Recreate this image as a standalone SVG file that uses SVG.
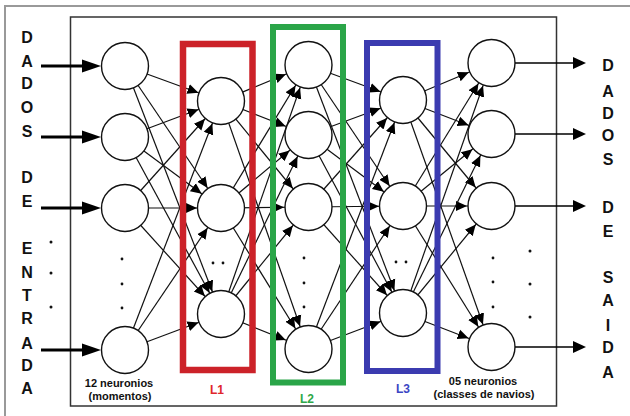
<svg xmlns="http://www.w3.org/2000/svg" width="630" height="416" viewBox="0 0 630 416">
<defs>
<style>
.n{fill:#fff;stroke:#111;stroke-width:1.4}
.c{stroke:#111;stroke-width:1.2;fill:none;marker-end:url(#ah)}
.in{stroke:#000;stroke-width:3.2;marker-end:url(#big)}
.out{stroke:#000;stroke-width:1.6;marker-end:url(#mid)}
.lt{font-family:"Liberation Sans",Arial,sans-serif;font-weight:bold;font-size:16px;fill:#111;text-anchor:middle}
.bt{font-family:"Liberation Sans",Arial,sans-serif;font-weight:bold;font-size:11px;fill:#111;text-anchor:middle}
.lb{font-family:"Liberation Sans",Arial,sans-serif;font-weight:bold;font-size:12px;text-anchor:middle}
.d{fill:#111}
</style>
<marker id="ah" markerUnits="userSpaceOnUse" markerWidth="40" markerHeight="20" refX="35" refY="10" orient="auto">
<path d="M0,5 L11,10 L0,15 z" fill="#000"/>
</marker>
<marker id="big" markerUnits="userSpaceOnUse" markerWidth="20" markerHeight="14" refX="10" refY="7" orient="auto">
<path d="M0,0.5 L19,7 L0,13.5 z" fill="#000"/>
</marker>
<marker id="mid" markerUnits="userSpaceOnUse" markerWidth="14" markerHeight="14" refX="4" refY="7" orient="auto">
<path d="M0,1 L13,7 L0,13 z" fill="#000"/>
</marker>
</defs>
<rect width="630" height="416" fill="#fff"/>
<path d="M5,416 V6 H630" fill="none" stroke="#999" stroke-width="2"/>
<rect x="70.5" y="17" width="486" height="389" fill="none" stroke="#333" stroke-width="1.5"/>

<g id="connectors">
<line class="c" x1="125" y1="66" x2="221" y2="101"/>
<line class="c" x1="125" y1="66" x2="221" y2="208"/>
<line class="c" x1="125" y1="66" x2="221" y2="314"/>
<line class="c" x1="125" y1="137" x2="221" y2="101"/>
<line class="c" x1="125" y1="137" x2="221" y2="208"/>
<line class="c" x1="125" y1="137" x2="221" y2="314"/>
<line class="c" x1="125" y1="208" x2="221" y2="101"/>
<line class="c" x1="125" y1="208" x2="221" y2="208"/>
<line class="c" x1="125" y1="208" x2="221" y2="314"/>
<line class="c" x1="125" y1="350" x2="221" y2="101"/>
<line class="c" x1="125" y1="350" x2="221" y2="208"/>
<line class="c" x1="125" y1="350" x2="221" y2="314"/>
<line class="c" x1="221" y1="101" x2="308" y2="65"/>
<line class="c" x1="221" y1="101" x2="308" y2="135"/>
<line class="c" x1="221" y1="101" x2="308" y2="207"/>
<line class="c" x1="221" y1="101" x2="308" y2="349"/>
<line class="c" x1="221" y1="208" x2="308" y2="65"/>
<line class="c" x1="221" y1="208" x2="308" y2="135"/>
<line class="c" x1="221" y1="208" x2="308" y2="207"/>
<line class="c" x1="221" y1="208" x2="308" y2="349"/>
<line class="c" x1="221" y1="314" x2="308" y2="65"/>
<line class="c" x1="221" y1="314" x2="308" y2="135"/>
<line class="c" x1="221" y1="314" x2="308" y2="207"/>
<line class="c" x1="221" y1="314" x2="308" y2="349"/>
<line class="c" x1="308" y1="65" x2="403" y2="100"/>
<line class="c" x1="308" y1="65" x2="403" y2="206"/>
<line class="c" x1="308" y1="65" x2="403" y2="313"/>
<line class="c" x1="308" y1="135" x2="403" y2="100"/>
<line class="c" x1="308" y1="135" x2="403" y2="206"/>
<line class="c" x1="308" y1="135" x2="403" y2="313"/>
<line class="c" x1="308" y1="207" x2="403" y2="100"/>
<line class="c" x1="308" y1="207" x2="403" y2="206"/>
<line class="c" x1="308" y1="207" x2="403" y2="313"/>
<line class="c" x1="308" y1="349" x2="403" y2="100"/>
<line class="c" x1="308" y1="349" x2="403" y2="206"/>
<line class="c" x1="308" y1="349" x2="403" y2="313"/>
<line class="c" x1="403" y1="100" x2="491" y2="63"/>
<line class="c" x1="403" y1="100" x2="491" y2="134"/>
<line class="c" x1="403" y1="100" x2="491" y2="206"/>
<line class="c" x1="403" y1="100" x2="491" y2="347"/>
<line class="c" x1="403" y1="206" x2="491" y2="63"/>
<line class="c" x1="403" y1="206" x2="491" y2="134"/>
<line class="c" x1="403" y1="206" x2="491" y2="206"/>
<line class="c" x1="403" y1="206" x2="491" y2="347"/>
<line class="c" x1="403" y1="313" x2="491" y2="63"/>
<line class="c" x1="403" y1="313" x2="491" y2="134"/>
<line class="c" x1="403" y1="313" x2="491" y2="206"/>
<line class="c" x1="403" y1="313" x2="491" y2="347"/>
<line class="in" x1="41" y1="66" x2="92" y2="66"/>
<line class="in" x1="41" y1="137" x2="92" y2="137"/>
<line class="in" x1="41" y1="208" x2="92" y2="208"/>
<line class="in" x1="41" y1="350" x2="92" y2="350"/>
<line class="out" x1="515" y1="63" x2="577" y2="63"/>
<line class="out" x1="515" y1="134" x2="577" y2="134"/>
<line class="out" x1="515" y1="206" x2="577" y2="206"/>
<line class="out" x1="515" y1="347" x2="577" y2="347"/>
</g>

<g id="L1">
<rect x="183" y="44" width="69.5" height="326" fill="none" stroke="#cc2229" stroke-width="6.5"/>
<text class="lb" x="217" y="394" fill="#e0262b">L1</text>
</g>
<g id="L2">
<rect x="273" y="27" width="70" height="355.5" fill="none" stroke="#2aa548" stroke-width="6"/>
<text class="lb" x="307" y="403" fill="#2ea84a">L2</text>
</g>
<g id="L3">
<rect x="367" y="43" width="70.5" height="328" fill="none" stroke="#3b3bb0" stroke-width="6"/>
<text class="lb" x="403" y="393" fill="#3b45c4">L3</text>
</g>

<g id="input-layer">
<circle class="n" cx="125" cy="66" r="23.5"/>
<circle class="n" cx="125" cy="137" r="23.5"/>
<circle class="n" cx="125" cy="208" r="23.5"/>
<circle class="n" cx="125" cy="350" r="23.5"/>
<circle class="d" cx="122" cy="259" r="1.4"/>
<circle class="d" cx="122" cy="284" r="1.4"/>
<circle class="d" cx="122" cy="308" r="1.4"/>
<text class="bt" x="119" y="387">12 neuronios</text>
<text class="bt" x="120" y="400">(momentos)</text>
</g>
<g id="l1-nodes">
<circle class="n" cx="221" cy="101" r="23.5"/>
<circle class="n" cx="221" cy="208" r="23.5"/>
<circle class="n" cx="221" cy="314" r="23.5"/>
<circle class="d" cx="213" cy="263" r="1.4"/>
<circle class="d" cx="223" cy="263" r="1.4"/>
</g>
<g id="l2-nodes">
<circle class="n" cx="308.5" cy="65" r="23.5"/>
<circle class="n" cx="308.5" cy="135" r="23.5"/>
<circle class="n" cx="308.5" cy="207" r="23.5"/>
<circle class="n" cx="308.5" cy="349" r="23.5"/>
<circle class="d" cx="304" cy="258" r="1.4"/>
<circle class="d" cx="304" cy="283" r="1.4"/>
<circle class="d" cx="304" cy="307" r="1.4"/>
</g>
<g id="l3-nodes">
<circle class="n" cx="403" cy="100" r="23.5"/>
<circle class="n" cx="403" cy="206" r="23.5"/>
<circle class="n" cx="403" cy="313" r="23.5"/>
<circle class="d" cx="396" cy="262" r="1.4"/>
<circle class="d" cx="406" cy="262" r="1.4"/>
</g>
<g id="output-layer">
<circle class="n" cx="491.5" cy="63" r="23.5"/>
<circle class="n" cx="491.5" cy="134" r="23.5"/>
<circle class="n" cx="491.5" cy="206" r="23.5"/>
<circle class="n" cx="491.5" cy="347" r="23.5"/>
<circle class="d" cx="493" cy="258" r="1.4"/>
<circle class="d" cx="493" cy="282" r="1.4"/>
<circle class="d" cx="493" cy="307" r="1.4"/>
<text class="bt" x="483" y="385">05 neuronios</text>
<text class="bt" x="484" y="398">(classes de navios)</text>
</g>

<g id="input-label">
<text class="lt" x="27" y="43">D</text>
<text class="lt" x="27" y="67">A</text>
<text class="lt" x="27" y="89">D</text>
<text class="lt" x="27" y="113">O</text>
<text class="lt" x="27" y="137">S</text>
<text class="lt" x="27" y="183">D</text>
<text class="lt" x="27" y="207">E</text>
<text class="lt" x="27" y="254">E</text>
<text class="lt" x="27" y="278">N</text>
<text class="lt" x="27" y="301">T</text>
<text class="lt" x="27" y="324">R</text>
<text class="lt" x="27" y="349">A</text>
<text class="lt" x="27" y="371">D</text>
<text class="lt" x="27" y="394">A</text>
<circle class="d" cx="51" cy="242" r="1.5"/>
<circle class="d" cx="51" cy="273" r="1.5"/>
<circle class="d" cx="51" cy="307" r="1.5"/>
</g>
<g id="output-label">
<text class="lt" x="608" y="71">D</text>
<text class="lt" x="608" y="97">A</text>
<text class="lt" x="608" y="119">D</text>
<text class="lt" x="608" y="141">O</text>
<text class="lt" x="608" y="165">S</text>
<text class="lt" x="608" y="213">D</text>
<text class="lt" x="608" y="237">E</text>
<text class="lt" x="608" y="283">S</text>
<text class="lt" x="608" y="306">A</text>
<text class="lt" x="608" y="331">I</text>
<text class="lt" x="608" y="353">D</text>
<text class="lt" x="608" y="378">A</text>
<circle class="d" cx="530" cy="251" r="1.5"/>
<circle class="d" cx="530" cy="284" r="1.5"/>
<circle class="d" cx="530" cy="317" r="1.5"/>
</g>
</svg>
